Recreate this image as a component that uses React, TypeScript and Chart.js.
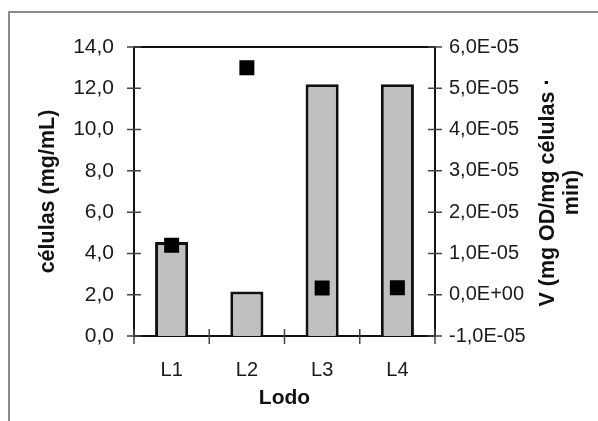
import React, { useEffect, useRef } from "react";
import { Chart, registerables } from "chart.js";

Chart.register(...registerables);

const categories = ["L1", "L2", "L3", "L4"];
const celulas = [4.55, 2.15, 12.2, 12.2];
const velocidade = [1.2e-5, 5.5e-5, 1.6e-6, 1.7e-6];
const leftAxis = { min: 0, max: 14, step: 2 };
const rightAxis = { min: -1e-5, max: 6e-5, step: 1e-5 };
const leftTitle = "células (mg/mL)";
const rightTitle = ["V (mg OD/mg células ·", "min)"];
const xTitle = "Lodo";

const FONT = "'Liberation Sans', Arial, Helvetica, sans-serif";

function sci(v: number): string {
  if (Math.abs(v) < 1e-12) return "0,0E+00";
  const [m, e] = v.toExponential(1).split("e");
  const en = parseInt(e, 10);
  const sign = en < 0 ? "-" : "+";
  return m.replace(".", ",") + "E" + sign + String(Math.abs(en)).padStart(2, "0");
}

const decorPlugin = {
  id: "decor",
  beforeDraw(chart: any) {
    const ctx = chart.ctx;
    ctx.save();
    ctx.strokeStyle = "#8a8a8a";
    ctx.lineWidth = 2;
    ctx.beginPath();
    ctx.moveTo(9, chart.height);
    ctx.lineTo(9, 12);
    ctx.lineTo(chart.width, 12);
    ctx.stroke();
    ctx.restore();
  },
  afterDraw(chart: any) {
    const ctx = chart.ctx;
    const a = chart.chartArea;
    ctx.save();
    // top frame line
    ctx.strokeStyle = "#111";
    ctx.lineWidth = 2;
    ctx.beginPath();
    ctx.moveTo(a.left - 1, a.top);
    ctx.lineTo(a.right + 1, a.top);
    ctx.stroke();
    // cross ticks
    ctx.strokeStyle = "#444";
    ctx.lineWidth = 1.5;
    const y = chart.scales.y;
    const y2 = chart.scales.y2;
    const x = chart.scales.x;
    ctx.beginPath();
    y.ticks.forEach((t: any) => {
      const p = y.getPixelForValue(t.value);
      ctx.moveTo(a.left - 7, p);
      ctx.lineTo(a.left + 7, p);
    });
    y2.ticks.forEach((t: any) => {
      const p = y2.getPixelForValue(t.value);
      ctx.moveTo(a.right - 7, p);
      ctx.lineTo(a.right + 7, p);
    });
    for (let i = 0; i <= categories.length; i++) {
      const p = x.getPixelForValue(i - 0.5);
      ctx.moveTo(p, a.bottom - 7);
      ctx.lineTo(p, a.bottom + 8);
    }
    ctx.stroke();
    // right axis title (reads bottom to top)
    ctx.fillStyle = "#111";
    ctx.font = "bold 21.5px " + FONT;
    ctx.textAlign = "center";
    ctx.textBaseline = "middle";
    ctx.translate(a.right + 113, (a.top + a.bottom) / 2 + 1);
    ctx.rotate(-Math.PI / 2);
    rightTitle.forEach((line, i) => ctx.fillText(line, 0, i * 24));
    ctx.restore();
  },
};

export default function App() {
  const ref = useRef<HTMLCanvasElement>(null);
  useEffect(() => {
    if (!ref.current) return;
    const chart = new Chart(ref.current, {
      data: {
        labels: categories,
        datasets: [
          {
            type: "line",
            data: velocidade,
            yAxisID: "y2",
            showLine: false,
            pointStyle: "rect",
            pointRadius: 10.6,
            pointBackgroundColor: "#000",
            pointBorderColor: "#000",
            pointBorderWidth: 0,
            order: 1,
          } as any,
          {
            type: "bar",
            data: celulas,
            yAxisID: "y",
            backgroundColor: "#c0c0c0",
            borderColor: "#111",
            borderWidth: 3,
            barPercentage: 0.44,
            categoryPercentage: 1,
            order: 2,
          },
        ],
      },
      options: {
        responsive: false,
        animation: false,
        devicePixelRatio: 1,
        layout: { padding: { top: 47, left: 0, right: 0, bottom: 0 } },
        plugins: { legend: { display: false }, tooltip: { enabled: false } },
        scales: {
          x: {
            type: "category",
            offset: true,
            afterFit: (s: any) => { s.height = 85; },
            grid: { display: false, drawTicks: false, offset: true },
            border: { display: true, color: "#111", width: 2 },
            ticks: { color: "#1a1a1a", font: { family: FONT, size: 20 }, padding: 22 },
            title: {
              display: true,
              text: xTitle,
              color: "#111",
              font: { family: FONT, size: 21, weight: "bold" },
              padding: { top: 0, bottom: 10 },
            },
          },
          y: {
            position: "left",
            min: leftAxis.min,
            max: leftAxis.max,
            afterFit: (s: any) => { s.width = 134; },
            grid: { display: false, drawTicks: false },
            border: { display: true, color: "#111", width: 2 },
            ticks: {
              stepSize: leftAxis.step,
              color: "#1a1a1a",
              font: { family: FONT, size: 21 },
              padding: 20,
              callback: (v: any) => Number(v).toFixed(1).replace(".", ","),
            },
            title: {
              display: true,
              text: leftTitle,
              color: "#111",
              font: { family: FONT, size: 21.5, weight: "bold" },
              padding: { top: 35, bottom: 0 },
            },
          },
          y2: {
            position: "right",
            min: rightAxis.min,
            max: rightAxis.max,
            afterFit: (s: any) => { s.width = 163; },
            grid: { display: false, drawTicks: false },
            border: { display: true, color: "#111", width: 2 },
            ticks: {
              stepSize: rightAxis.step,
              color: "#1a1a1a",
              font: { family: FONT, size: 20 },
              padding: 14,
              callback: (v: any) => sci(Number(v)),
            },
          },
        },
      },
      plugins: [decorPlugin],
    } as any);
    return () => chart.destroy();
  }, []);
  return (
    <div style={{ position: "absolute", left: 0, top: 0, width: 598, height: 421, background: "#fff" }}>
      <canvas ref={ref} width={598} height={421} style={{ display: "block" }} />
    </div>
  );
}
